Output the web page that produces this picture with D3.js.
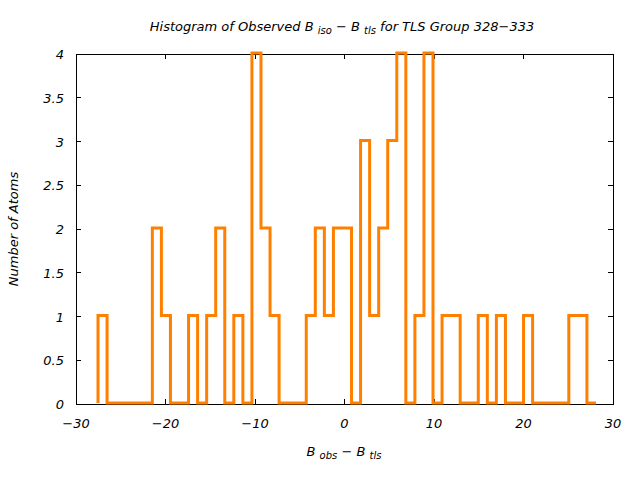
<!DOCTYPE html>
<html>
<head>
<meta charset="utf-8">
<script src="https://cdn.jsdelivr.net/npm/d3@7"></script>
<style>
  body { margin: 0; background: #fff; }
  text { font-family: "DejaVu Sans", sans-serif; font-style: italic; fill: #000; }
</style>
</head>
<body>
<div id="chart"></div>
<script>
// histogram bins (B_obs - B_tls)
var binStart = -27.54,
    binWidth = 1.0116;
var counts = [1, 0, 0, 0, 0, 0, 2, 1, 0, 0,
              1, 0, 1, 2, 0, 1, 0, 4, 2, 1,
              0, 0, 0, 1, 2, 1, 2, 2, 0, 3,
              1, 2, 3, 4, 0, 1, 4, 0, 1, 1,
              0, 0, 1, 0, 1, 0, 0, 1, 0, 0,
              0, 0, 1, 1, 0];
var xTicks = [-30, -20, -10, 0, 10, 20, 30];
var yTicks = [0, 0.5, 1, 1.5, 2, 2.5, 3, 3.5, 4];

var W = 640, H = 480;
var margin = {left: 76, right: 27, top: 54, bottom: 76};
var width = W - margin.left - margin.right,
    height = H - margin.top - margin.bottom;

var x = d3.scaleLinear().domain([-30, 30]).range([0, width]);
var y = d3.scaleLinear().domain([0, 4]).range([height, 0]);

var svg = d3.select("#chart").append("svg")
    .attr("width", W)
    .attr("height", H);

var g = svg.append("g")
    .attr("transform", "translate(" + margin.left + "," + margin.top + ")");

function fmt(d) { return String(d).replace("-", "\u2212"); }

// frame
g.append("rect")
  .attr("x", 0).attr("y", 0)
  .attr("width", width).attr("height", height)
  .attr("fill", "none")
  .attr("stroke", "#000")
  .attr("stroke-width", 1)
  .attr("shape-rendering", "crispEdges");

// inward ticks on all four sides
var tl = 5;
g.selectAll(".xtb").data(xTicks).enter().append("line")
  .attr("x1", function(d) { return x(d); }).attr("x2", function(d) { return x(d); })
  .attr("y1", height).attr("y2", height - tl);
g.selectAll(".xtt").data(xTicks).enter().append("line")
  .attr("x1", function(d) { return x(d); }).attr("x2", function(d) { return x(d); })
  .attr("y1", 0).attr("y2", tl);
g.selectAll(".ytl").data(yTicks).enter().append("line")
  .attr("x1", 0).attr("x2", tl)
  .attr("y1", function(d) { return y(d); }).attr("y2", function(d) { return y(d); });
g.selectAll(".ytr").data(yTicks).enter().append("line")
  .attr("x1", width).attr("x2", width - tl)
  .attr("y1", function(d) { return y(d); }).attr("y2", function(d) { return y(d); });
g.selectAll("line").attr("stroke", "#000").attr("stroke-width", 1)
  .attr("shape-rendering", "crispEdges");

// tick labels
g.selectAll(".xl").data(xTicks).enter().append("text")
  .attr("x", function(d) { return x(d); })
  .attr("y", height + 24)
  .attr("text-anchor", "middle")
  .style("font-size", "13px")
  .text(fmt);
g.selectAll(".yl").data(yTicks).enter().append("text")
  .attr("x", -12)
  .attr("y", function(d) { return y(d) + 5; })
  .attr("text-anchor", "end")
  .style("font-size", "13px")
  .text(fmt);

// step line
var pts = [{x: binStart, y: 0}];
counts.forEach(function(c, i) { pts.push({x: binStart + i * binWidth, y: c}); });
pts.push({x: binStart + counts.length * binWidth, y: counts[counts.length - 1]});

var line = d3.line()
  .x(function(d) { return x(d.x); })
  .y(function(d) { return y(d.y) - 1; })
  .curve(d3.curveStepAfter);

g.append("path")
  .datum(pts)
  .attr("d", line)
  .attr("fill", "none")
  .attr("stroke", "#ff8000")
  .attr("stroke-width", 3)
  .attr("stroke-linejoin", "miter");

// title
var t = svg.append("text")
  .attr("x", 342).attr("y", 31)
  .attr("text-anchor", "middle")
  .style("font-size", "13px");
t.append("tspan").text("Histogram of Observed B ");
t.append("tspan").attr("dy", 3).style("font-size", "10px").text("iso");
t.append("tspan").attr("dy", -3).text(" \u2212 B ");
t.append("tspan").attr("dy", 3).style("font-size", "10px").text("tls");
t.append("tspan").attr("dy", -3).text(" for TLS Group 328\u2212333");

// x axis title
var xt = svg.append("text")
  .attr("x", 344).attr("y", 456)
  .attr("text-anchor", "middle")
  .style("font-size", "13px");
xt.append("tspan").text("B ");
xt.append("tspan").attr("dy", 3).style("font-size", "10px").text("obs");
xt.append("tspan").attr("dy", -3).text(" \u2212 B ");
xt.append("tspan").attr("dy", 3).style("font-size", "10px").text("tls");

// y axis title
svg.append("text")
  .attr("transform", "translate(18," + (margin.top + height / 2) + ") rotate(-90)")
  .attr("text-anchor", "middle")
  .style("font-size", "13px")
  .text("Number of Atoms");
</script>
</body>
</html>
